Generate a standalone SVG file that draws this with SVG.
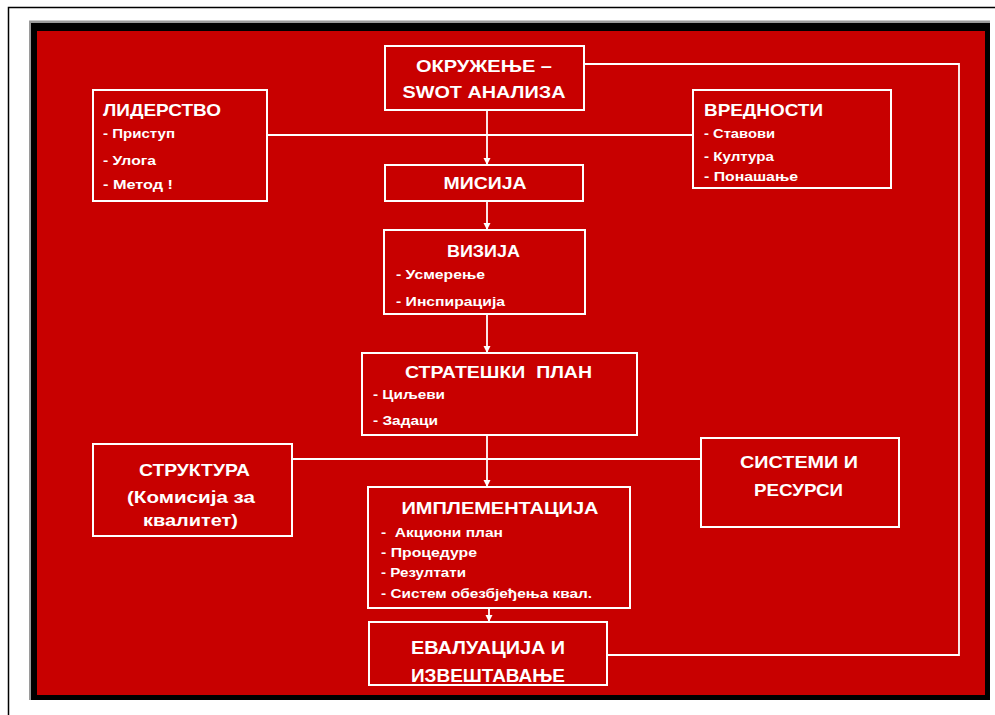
<svg xmlns="http://www.w3.org/2000/svg" width="995" height="715" viewBox="0 0 995 715">
<defs>
<style>
.box{fill:none;stroke:#ffffff;stroke-width:2}
.ln{fill:none;stroke:#ffffff;stroke-width:1.8}
.t{font-family:"Liberation Sans","DejaVu Sans",sans-serif;font-weight:bold;fill:#ffffff;font-size:17px}
.i{font-family:"Liberation Sans","DejaVu Sans",sans-serif;font-weight:bold;fill:#ffffff;font-size:13.5px}
.c{text-anchor:middle}
</style>
<marker id="arr" markerUnits="userSpaceOnUse" markerWidth="8" markerHeight="8" refX="7" refY="3.5" orient="auto">
<path d="M0,0 L7,3.5 L0,7 z" fill="#ffffff"/>
</marker>
</defs>
<rect x="0" y="0" width="995" height="715" fill="#ffffff"/>
<path d="M8.5,715 V7.5 H995" fill="none" stroke="#000000" stroke-width="1.5"/>
<rect x="29" y="20.5" width="961" height="679.5" fill="#9a9a9a"/>
<rect x="31" y="23" width="959" height="677" fill="#000000"/>
<rect x="37" y="31" width="948" height="664" fill="#c80000"/>

<g id="connectors">
<line class="ln" x1="267" y1="135" x2="693" y2="135"/>
<line class="ln" x1="292" y1="459" x2="701" y2="459"/>
<line class="ln" x1="487" y1="110" x2="487" y2="165" marker-end="url(#arr)"/>
<line class="ln" x1="487" y1="201" x2="487" y2="230" marker-end="url(#arr)"/>
<line class="ln" x1="487" y1="314" x2="487" y2="353" marker-end="url(#arr)"/>
<line class="ln" x1="487" y1="435" x2="487" y2="487" marker-end="url(#arr)"/>
<line class="ln" x1="489" y1="608" x2="489" y2="622" marker-end="url(#arr)"/>
<polyline class="ln" points="607,655 959,655 959,64 584,64"/>
</g>

<g id="okruzenje">
<rect class="box" x="385" y="46" width="199" height="64"/>
<text class="t c" x="484" y="72" textLength="136" lengthAdjust="spacingAndGlyphs">ОКРУЖЕЊЕ –</text>
<text class="t c" x="484" y="98" textLength="163" lengthAdjust="spacingAndGlyphs">SWOT АНАЛИЗА</text>
</g>

<g id="liderstvo">
<rect class="box" x="93" y="90" width="174" height="111"/>
<text class="t" x="103" y="116" textLength="118" lengthAdjust="spacingAndGlyphs">ЛИДЕРСТВО</text>
<text class="i" x="103" y="138" textLength="72" lengthAdjust="spacingAndGlyphs">- Приступ</text>
<text class="i" x="103" y="165" textLength="53" lengthAdjust="spacingAndGlyphs">- Улога</text>
<text class="i" x="103" y="189" textLength="70" lengthAdjust="spacingAndGlyphs">- Метод !</text>
</g>

<g id="vrednosti">
<rect class="box" x="693" y="90" width="198" height="98"/>
<text class="t" x="704" y="116" textLength="119" lengthAdjust="spacingAndGlyphs">ВРЕДНОСТИ</text>
<text class="i" x="704" y="138" textLength="71" lengthAdjust="spacingAndGlyphs">- Ставови</text>
<text class="i" x="704" y="161" textLength="70" lengthAdjust="spacingAndGlyphs">- Култура</text>
<text class="i" x="704" y="181" textLength="94" lengthAdjust="spacingAndGlyphs">- Понашање</text>
</g>

<g id="misija">
<rect class="box" x="385" y="165" width="198" height="36"/>
<text class="t c" x="485" y="189" textLength="83" lengthAdjust="spacingAndGlyphs">МИСИЈА</text>
</g>

<g id="vizija">
<rect class="box" x="384" y="230" width="201" height="84"/>
<text class="t c" x="483.5" y="257" textLength="73" lengthAdjust="spacingAndGlyphs">ВИЗИЈА</text>
<text class="i" x="396" y="279" textLength="89" lengthAdjust="spacingAndGlyphs">- Усмерење</text>
<text class="i" x="396" y="306" textLength="109" lengthAdjust="spacingAndGlyphs">- Инспирација</text>
</g>

<g id="strateski-plan">
<rect class="box" x="362" y="353" width="275" height="82"/>
<text class="t c" x="498.5" y="378" textLength="187" lengthAdjust="spacingAndGlyphs">СТРАТЕШКИ&#160; ПЛАН</text>
<text class="i" x="373" y="399" textLength="72" lengthAdjust="spacingAndGlyphs">- Циљеви</text>
<text class="i" x="373" y="425" textLength="65" lengthAdjust="spacingAndGlyphs">- Задаци</text>
</g>

<g id="struktura">
<rect class="box" x="93" y="444" width="199" height="92"/>
<text class="t c" x="194.5" y="476" textLength="111" lengthAdjust="spacingAndGlyphs">СТРУКТУРА</text>
<text class="t c" x="191" y="503" textLength="128" lengthAdjust="spacingAndGlyphs">(Комисија за</text>
<text class="t c" x="190.5" y="526" textLength="95" lengthAdjust="spacingAndGlyphs">квалитет)</text>
</g>

<g id="sistemi-resursi">
<rect class="box" x="701" y="438" width="198" height="89"/>
<text class="t c" x="799" y="468" textLength="118" lengthAdjust="spacingAndGlyphs">СИСТЕМИ И</text>
<text class="t c" x="798.5" y="496" textLength="89" lengthAdjust="spacingAndGlyphs">РЕСУРСИ</text>
</g>

<g id="implementacija">
<rect class="box" x="368" y="487" width="262" height="121"/>
<text class="t c" x="500" y="514" textLength="197" lengthAdjust="spacingAndGlyphs">ИМПЛЕМЕНТАЦИЈА</text>
<text class="i" x="381" y="537" textLength="122" lengthAdjust="spacingAndGlyphs">-&#160; Акциони план</text>
<text class="i" x="381" y="557" textLength="96" lengthAdjust="spacingAndGlyphs">- Процедуре</text>
<text class="i" x="381" y="577" textLength="85" lengthAdjust="spacingAndGlyphs">- Резултати</text>
<text class="i" x="381" y="598" textLength="211" lengthAdjust="spacingAndGlyphs">- Систем обезбјеђења квал.</text>
</g>

<g id="evaluacija">
<rect class="box" x="369" y="622" width="238" height="63"/>
<text class="t c" x="488" y="654" style="font-size:18px" textLength="154" lengthAdjust="spacingAndGlyphs">ЕВАЛУАЦИЈА И</text>
<text class="t c" x="488" y="682" style="font-size:18px" textLength="154" lengthAdjust="spacingAndGlyphs">ИЗВЕШТАВАЊЕ</text>
</g>
</svg>
